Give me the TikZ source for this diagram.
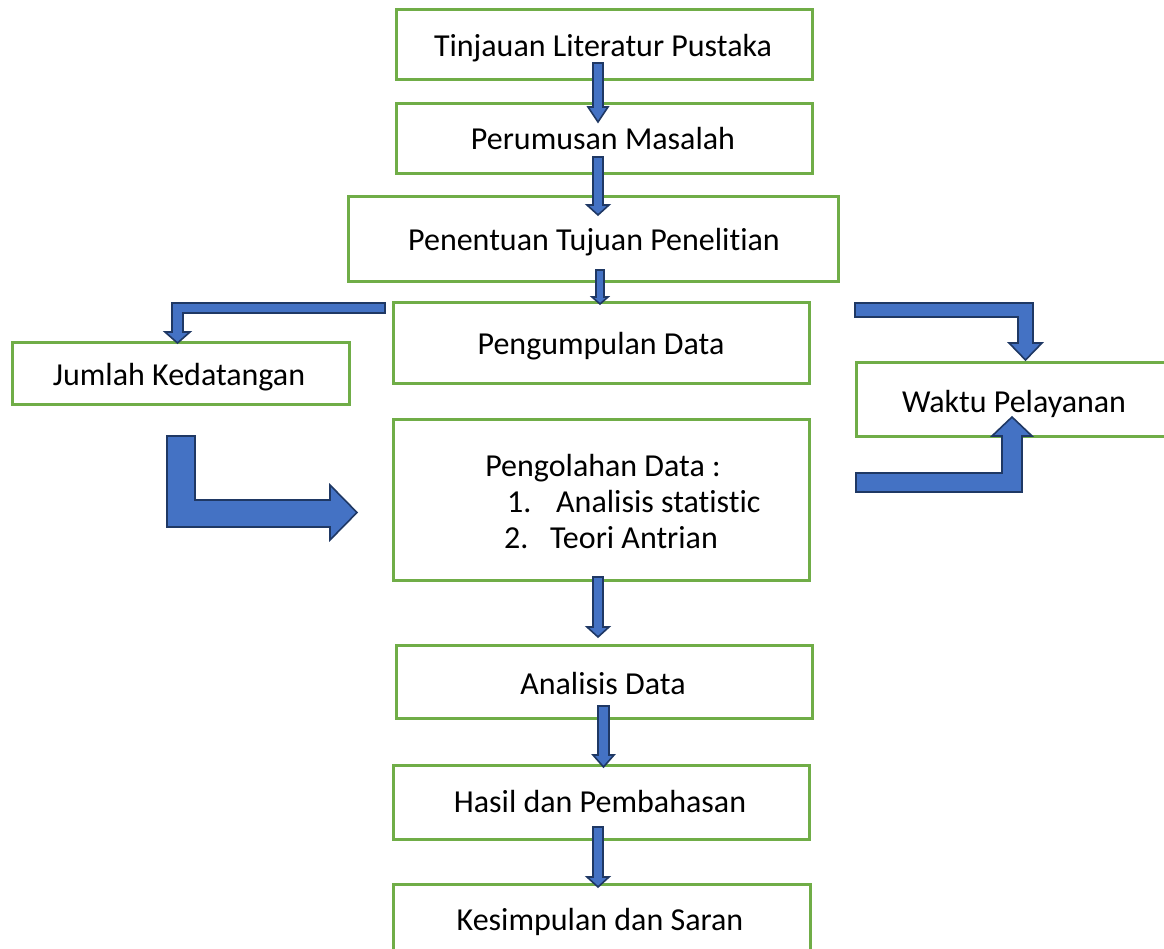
\documentclass[tikz,border=0pt]{standalone}
\usepackage{fontspec}
\setmainfont{Carlito}[Ligatures=NoCommon]
\definecolor{boxgreen}{HTML}{70AD47}
\definecolor{arrblue}{HTML}{4472C4}
\definecolor{arrnavy}{HTML}{1F3864}
\begin{document}
\begin{tikzpicture}[x=1pt,y=-1pt,
  box/.style={draw=boxgreen, line width=3pt, inner sep=0pt, font=\fontsize{32}{38}\selectfont},
  txt/.style={inner sep=0pt, font=\fontsize{32}{38}\selectfont},
  blk/.style={fill=arrblue, draw=arrnavy, line width=1.6pt, line join=miter}]
\useasboundingbox (0,0) rectangle (1164,949);
% boxes
\node[box, minimum width=416pt, minimum height=70pt] (tinjauan) at (604,45) {};
\node[txt, anchor=base] (tinjauanT) at (603,57) {Tinjauan Literatur Pustaka};
\node[box, minimum width=416pt, minimum height=70pt] (perumusan) at (604,139) {};
\node[txt, anchor=base] (perumusanT) at (603,150) {Perumusan Masalah};
\node[box, minimum width=490pt, minimum height=85pt] (tujuan) at (593,239.5) {};
\node[txt, anchor=base] (tujuanT) at (594,251) {Penentuan Tujuan Penelitian};
\node[box, minimum width=416pt, minimum height=80pt] (pengumpulan) at (601,343) {};
\node[txt, anchor=base] (pengumpulanT) at (601,355) {Pengumpulan Data};
\node[box, minimum width=337pt, minimum height=61pt] (jumlah) at (180.5,373.5) {};
\node[txt, anchor=base] (jumlahT) at (179,385) {Jumlah Kedatangan};
\draw[draw=boxgreen, line width=3pt] (856,362) rectangle (1185,436);
\node[txt, anchor=base] (waktu) at (1014,412) {Waktu Pelayanan};
\node[box, minimum width=416pt, minimum height=161pt] (pengolahan) at (601,499.5) {};
\node[txt, anchor=base] (pglh) at (603,476) {Pengolahan Data :};
\node[txt, anchor=base west] (n1) at (507,512) {1.};
\node[txt, anchor=base west] (i1) at (556,512) {Analisis statistic};
\node[txt, anchor=base west] (n2) at (504,548) {2.};
\node[txt, anchor=base west] (i2) at (550,548) {Teori Antrian};
\node[box, minimum width=416pt, minimum height=73pt] (analisis) at (604,681.5) {};
\node[txt, anchor=base] (analisisT) at (603,694) {Analisis Data};
\node[box, minimum width=416pt, minimum height=74pt] (hasil) at (601,802) {};
\node[txt, anchor=base] (hasilT) at (600,812) {Hasil dan Pembahasan};
\draw[draw=boxgreen, line width=3pt] (393,884) rectangle (810,970);
\node[txt, anchor=base] (kesimpulan) at (600,930) {Kesimpulan dan Saran};
% small down arrows
\draw[blk] (593,63) -- (603,63) -- (603,107) -- (608,107) -- (598,122) -- (588,107) -- (593,107) -- cycle;
\draw[blk] (593,157) -- (603,157) -- (603,205) -- (609,205) -- (598,215) -- (587,205) -- (593,205) -- cycle;
\draw[blk] (596,270) -- (604,270) -- (604,297) -- (608,297) -- (600,304) -- (592,297) -- (596,297) -- cycle;
\draw[blk] (593,577) -- (603,577) -- (603,627) -- (609,627) -- (598,637) -- (587,627) -- (593,627) -- cycle;
\draw[blk] (598,706) -- (609,706) -- (609,755) -- (614,755) -- (603.5,767) -- (593,755) -- (598,755) -- cycle;
\draw[blk] (593,827) -- (603,827) -- (603,877) -- (609,877) -- (598,887) -- (587,877) -- (593,877) -- cycle;
% bent arrows
\draw[blk] (385,303) -- (172,303) -- (172,332) -- (165,332) -- (177.5,343) -- (190,332) -- (183,332) -- (183,313) -- (385,313) -- cycle;
\draw[blk] (855,303) -- (1033,303) -- (1033,343) -- (1042,343) -- (1025.5,360) -- (1009,343) -- (1018,343) -- (1018,317) -- (855,317) -- cycle;
\draw[blk] (167,436) -- (167,527) -- (330,527) -- (330,540) -- (357,512.5) -- (330,485) -- (330,500) -- (195,500) -- (195,436) -- cycle;
\draw[blk] (856,473) -- (1002,473) -- (1002,436) -- (992,436) -- (1012,417) -- (1032,436) -- (1022,436) -- (1022,492) -- (856,492) -- cycle;
\end{tikzpicture}
\end{document}
